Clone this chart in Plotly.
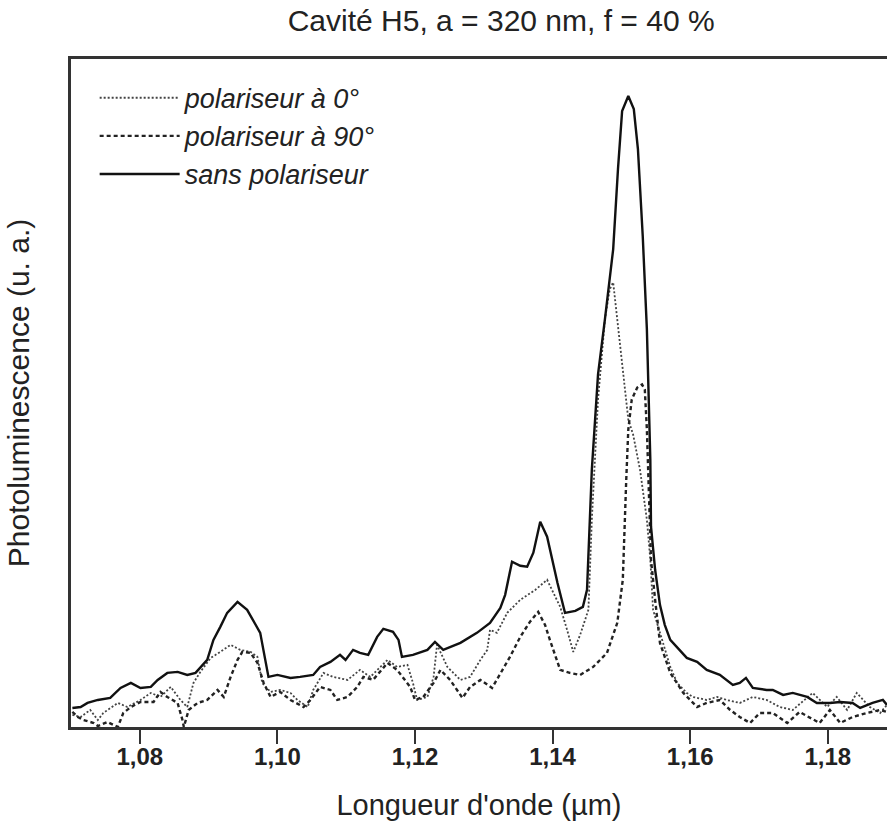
import plotly.graph_objects as go

# ---- data (wavelength in µm, photoluminescence in arbitrary units) ----
wl_sans = [1.0702, 1.0714, 1.0724, 1.0739, 1.0757, 1.0772, 1.0787, 1.0801, 1.0816, 1.0826,
           1.0840, 1.0855, 1.0869, 1.0881, 1.0898, 1.0907, 1.0917, 1.0927, 1.0942, 1.0956,
           1.0975, 1.0987, 1.1000, 1.1019, 1.1033, 1.1052, 1.1062, 1.1077, 1.1091, 1.1099,
           1.1110, 1.1120, 1.1132, 1.1145, 1.1154, 1.1168, 1.1176, 1.1181, 1.1197, 1.1218,
           1.1229, 1.1241, 1.1266, 1.1290, 1.1309, 1.1324, 1.1331, 1.1341, 1.1353, 1.1363,
           1.1372, 1.1382, 1.1392, 1.1407, 1.1418, 1.1433, 1.1444, 1.1450, 1.1457, 1.1466,
           1.1476, 1.1488, 1.1495, 1.1501, 1.1510, 1.1518, 1.1524, 1.1531, 1.1537, 1.1539,
           1.1542, 1.1543, 1.1549, 1.1556, 1.1563, 1.1571, 1.1595, 1.1610, 1.1624, 1.1643,
           1.1662, 1.1672, 1.1681, 1.1691, 1.1711, 1.1720, 1.1735, 1.1749, 1.1770, 1.1784,
           1.1803, 1.1818, 1.1836, 1.1847, 1.1865, 1.1880, 1.1886]
pl_sans = [19, 20, 24, 27, 29, 39, 44, 39, 40, 47,
           54, 55, 52, 54, 67, 87, 100, 114, 125, 117,
           94, 50, 52, 49, 50, 52, 60, 65, 72, 67,
           77, 74, 72, 90, 98, 95, 87, 70, 72, 77,
           85, 77, 84, 94, 104, 119, 132, 165, 161, 160,
           174, 205, 190, 144, 114, 116, 120, 137, 257, 352,
           407, 477, 557, 615, 630, 617, 577, 490, 397, 337,
           267, 200, 157, 122, 102, 87, 69, 65, 57, 52,
           42, 44, 49, 39, 37, 37, 32, 34, 30, 24,
           24, 25, 24, 19, 24, 27, 22]

wl_pol0 = [1.0702, 1.0714, 1.0728, 1.0739, 1.0747, 1.0768, 1.0782, 1.0801, 1.0816, 1.0830,
           1.0845, 1.0859, 1.0869, 1.0878, 1.0888, 1.0903, 1.0917, 1.0932, 1.0946, 1.0961,
           1.0971, 1.0978, 1.0990, 1.1004, 1.1019, 1.1029, 1.1044, 1.1052, 1.1067, 1.1081,
           1.1102, 1.1120, 1.1135, 1.1150, 1.1160, 1.1174, 1.1189, 1.1197, 1.1203, 1.1218,
           1.1227, 1.1232, 1.1247, 1.1266, 1.1280, 1.1295, 1.1305, 1.1309, 1.1319, 1.1334,
           1.1353, 1.1375, 1.1392, 1.1399, 1.1411, 1.1421, 1.1430, 1.1440, 1.1452, 1.1457,
           1.1466, 1.1476, 1.1483, 1.1488, 1.1494, 1.1501, 1.1510, 1.1517, 1.1527, 1.1537,
           1.1542, 1.1546, 1.1560, 1.1571, 1.1581, 1.1595, 1.1604, 1.1624, 1.1639, 1.1653,
           1.1672, 1.1691, 1.1711, 1.1730, 1.1749, 1.1778, 1.1799, 1.1813, 1.1828, 1.1842,
           1.1861, 1.1876, 1.1886]
pl_pol0 = [12, 10, 17, 7, 14, 24, 20, 27, 34, 30,
           40, 27, 20, 44, 55, 69, 75, 82, 77, 75,
           70, 44, 35, 37, 34, 27, 20, 37, 54, 50,
           47, 57, 50, 60, 67, 60, 62, 44, 27, 30,
           50, 82, 60, 47, 50, 67, 77, 97, 94, 114,
           127, 137, 147, 137, 120, 97, 75, 92, 117, 207,
           327, 407, 437, 444, 407, 357, 307, 292, 257, 207,
           167, 117, 84, 60, 44, 34, 30, 27, 30, 27,
           24, 30, 27, 20, 17, 34, 20, 30, 17, 34,
           20, 14, 22]

wl_pol90 = [1.0702, 1.0710, 1.0718, 1.0733, 1.0739, 1.0753, 1.0768, 1.0776, 1.0787, 1.0801,
            1.0820, 1.0830, 1.0840, 1.0855, 1.0862, 1.0864, 1.0871, 1.0884, 1.0898, 1.0913,
            1.0922, 1.0932, 1.0942, 1.0949, 1.0961, 1.0971, 1.0980, 1.0990, 1.1004, 1.1019,
            1.1038, 1.1048, 1.1062, 1.1077, 1.1087, 1.1102, 1.1116, 1.1125, 1.1139, 1.1160,
            1.1174, 1.1193, 1.1200, 1.1212, 1.1227, 1.1237, 1.1251, 1.1269, 1.1280, 1.1295,
            1.1312, 1.1338, 1.1353, 1.1367, 1.1379, 1.1389, 1.1396, 1.1411, 1.1425, 1.1440,
            1.1459, 1.1479, 1.1494, 1.1502, 1.1507, 1.1510, 1.1515, 1.1523, 1.1530, 1.1534,
            1.1537, 1.1540, 1.1543, 1.1549, 1.1556, 1.1571, 1.1590, 1.1610, 1.1624, 1.1643,
            1.1658, 1.1672, 1.1687, 1.1701, 1.1720, 1.1741, 1.1759, 1.1788, 1.1803, 1.1818,
            1.1836, 1.1857, 1.1876, 1.1886]
pl_pol90 = [15, 10, 7, 4, 1, 5, 0, 14, 20, 25,
            25, 35, 30, 24, 7, 0, 17, 24, 27, 37,
            30, 50, 67, 75, 74, 64, 44, 30, 35, 27,
            20, 27, 40, 37, 27, 30, 40, 50, 47, 64,
            57, 40, 27, 30, 44, 57, 47, 29, 40, 47,
            39, 70, 90, 105, 115, 102, 87, 57, 54, 52,
            60, 74, 104, 147, 247, 297, 327, 339, 342, 337,
            297, 227, 167, 127, 84, 54, 34, 20, 24, 27,
            17, 10, 4, 14, 14, 4, 15, 4, 17, 4,
            10, 14, 17, 15]

tick_vals = [1.08, 1.10, 1.12, 1.14, 1.16, 1.18]
tick_text = ["1,08", "1,10", "1,12", "1,14", "1,16", "1,18"]

names = ["polariseur à 0°", "polariseur à 90°", "sans polariseur"]

fig = go.Figure()
fig.add_trace(go.Scatter(x=wl_pol0, y=pl_pol0, mode="lines", name=names[0],
                         line=dict(color="#444444", width=1.8, dash="2px,2px")))
fig.add_trace(go.Scatter(x=wl_pol90, y=pl_pol90, mode="lines", name=names[1],
                         line=dict(color="#222222", width=2.4, dash="4px,3px")))
fig.add_trace(go.Scatter(x=wl_sans, y=pl_sans, mode="lines", name=names[2],
                         line=dict(color="#111111", width=2.4)))

fig.update_layout(
    width=887, height=825,
    margin=dict(l=71, r=0, t=59, b=98),
    paper_bgcolor="white", plot_bgcolor="white",
    font=dict(family="Liberation Sans, Arial, sans-serif", color="#222222"),
    title=dict(text="Cavité H5, a = 320 nm, f = 40 %", x=0.565, xanchor="center",
               y=0.975, yanchor="middle", font=dict(size=30, color="#222222")),
    showlegend=True,
    legend=dict(x=0.029, y=0.978, xanchor="left", yanchor="top",
                bgcolor="rgba(0,0,0,0)", itemwidth=80, tracegroupgap=0,
                font=dict(size=27, style="italic", color="#222222")),
    xaxis=dict(range=[1.07, 1.1886], showgrid=False, zeroline=False, automargin=False,
               showline=True, linecolor="#333333", linewidth=2.5, mirror=True,
               ticks="outside", ticklen=14, tickwidth=2, tickcolor="#333333",
               tickvals=tick_vals, ticktext=tick_text, ticklabelstandoff=-8,
               tickfont=dict(size=24, color="#222222", weight="bold"),
               title=dict(text="Longueur d'onde (µm)", font=dict(size=29), standoff=27)),
    yaxis=dict(range=[0, 667], showgrid=False, zeroline=False, automargin=False,
               showline=True, linecolor="#333333", linewidth=2.5, mirror=False,
               showticklabels=False, ticks="",
               title=dict(text="Photoluminescence (u. a.)", font=dict(size=30), standoff=30)),
)

fig.write_html("out.html", config={"displayModeBar": False},
               post_script="document.body.style.margin='0';document.body.style.overflow='hidden';")
